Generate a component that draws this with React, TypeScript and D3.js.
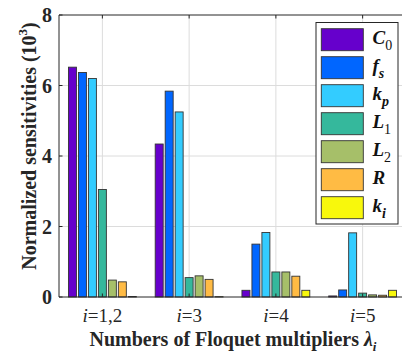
import React from 'react'
import * as d3 from 'd3'

// categories along x
const groups = ['1,2', '3', '4', '5']
// series: [main letter, subscript, subscript italic?]
const seriesNames = [
  ['C', '0', false],
  ['f', 's', true],
  ['k', 'p', true],
  ['L', '1', false],
  ['L', '2', false],
  ['R', '', false],
  ['k', 'i', true]
] as [string, string, boolean][]
const seriesColors = ['#6600cc', '#0066ff', '#33ccff', '#35b89c', '#a6bf69', '#ffbb44', '#f8f80c']

// values per series (10^3), one per group
const C0 = [6.52, 4.34, 0.19, 0.03]
const fs = [6.37, 5.84, 1.5, 0.2]
const kp = [6.2, 5.25, 1.83, 1.82]
const L1 = [3.05, 0.55, 0.71, 0.11]
const L2 = [0.48, 0.6, 0.71, 0.06]
const R = [0.43, 0.5, 0.59, 0.05]
const ki = [0.015, 0.01, 0.19, 0.19]
const series = [C0, fs, kp, L1, L2, R, ki]

const yTicks = [0, 2, 4, 6, 8]

const FONT = "'Liberation Serif', 'Times New Roman', serif"

export default function App() {
  const W = 402
  const H = 356
  const margin = { left: 59, top: 15, right: 406, bottom: 297 }

  const x = d3.scaleLinear().domain([0.5, groups.length + 0.5]).range([margin.left, margin.right])
  const y = d3.scaleLinear().domain([0, 8]).range([margin.bottom, margin.top])

  const step = 0.115
  const barW = x(0.092) - x(0)
  const n = series.length

  const axisColor = '#262626'
  const gridColor = '#dcdcdc'

  const legend = { x: 316, y: 22.5, w: 82, h: 201.5, step: 28, sw: 42, sh: 22 }

  return (
    <svg width={W} height={H} style={{ position: 'absolute', left: 0, top: 0, background: '#fff' }} fontFamily={FONT}>
      {/* grid */}
      {yTicks.slice(1, -1).map(t => (
        <line key={'gy' + t} x1={margin.left} x2={margin.right} y1={y(t)} y2={y(t)} stroke={gridColor} strokeWidth={1} />
      ))}
      {groups.map((g, i) => (
        <line key={'gx' + g} x1={x(i + 1)} x2={x(i + 1)} y1={margin.top} y2={margin.bottom} stroke={gridColor} strokeWidth={1} />
      ))}

      {/* bars */}
      {series.map((vals, s) =>
        vals.map((v, i) => {
          const cx = x(i + 1 + (s - (n - 1) / 2) * step)
          return (
            <rect
              key={s + '-' + i}
              x={cx - barW / 2}
              y={y(v)}
              width={barW}
              height={y(0) - y(v)}
              fill={seriesColors[s]}
              stroke="#333"
              strokeWidth={0.9}
            />
          )
        })
      )}

      {/* axes box */}
      <line x1={margin.left} x2={margin.right} y1={margin.top} y2={margin.top} stroke={axisColor} />
      <line x1={margin.left} x2={margin.right} y1={margin.bottom} y2={margin.bottom} stroke={axisColor} />
      <line x1={margin.left} x2={margin.left} y1={margin.top} y2={margin.bottom} stroke={axisColor} />
      {yTicks.map(t => (
        <line key={'ty' + t} x1={margin.left} x2={margin.left + 3.5} y1={y(t)} y2={y(t)} stroke={axisColor} />
      ))}
      {groups.map((g, i) => (
        <g key={'tx' + g}>
          <line x1={x(i + 1)} x2={x(i + 1)} y1={margin.bottom} y2={margin.bottom - 3.5} stroke={axisColor} />
          <line x1={x(i + 1)} x2={x(i + 1)} y1={margin.top} y2={margin.top + 3.5} stroke={axisColor} />
        </g>
      ))}

      {/* y tick labels */}
      {yTicks.map(t => (
        <text key={'yl' + t} x={52} y={y(t)} dy="0.35em" textAnchor="end" fontSize={20} fontWeight="bold" fill="#262626">
          {t}
        </text>
      ))}

      {/* x tick labels */}
      {groups.map((g, i) => (
        <text key={'xl' + g} x={x(i + 1)} y={322} textAnchor="middle" fontSize={19} fill="#262626">
          <tspan fontStyle="italic">i</tspan>
          <tspan>={g}</tspan>
        </text>
      ))}

      {/* axis labels */}
      <text x={233} y={346} textAnchor="middle" fontSize={20} fontWeight="bold" fill="#262626">
        Numbers of Floquet multipliers <tspan fontStyle="italic">λ</tspan>
        <tspan fontStyle="italic" fontSize={13} dy={5}>i</tspan>
      </text>
      <text transform="translate(36,146) rotate(-90)" textAnchor="middle" fontSize={20} fontWeight="bold" fill="#262626">
        Normalized sensitivities (10<tspan fontSize={13} dy={-9}>3</tspan>
        <tspan dy={9}>)</tspan>
      </text>

      {/* legend */}
      <rect x={legend.x} y={legend.y} width={legend.w} height={legend.h} fill="#fff" stroke={axisColor} strokeWidth={1} />
      {seriesNames.map(([main, sub, subItalic], s) => {
        const top = legend.y + 6.2 + s * legend.step
        return (
          <g key={'lg' + s}>
            <rect x={legend.x + 5.3} y={top} width={legend.sw} height={legend.sh} fill={seriesColors[s]} stroke="#333" strokeWidth={0.9} />
            <text x={legend.x + 56.5} y={top + 15} fontSize={19} fill="#111">
              <tspan fontWeight="bold" fontStyle="italic">{main}</tspan>
              {sub && (
                <tspan fontSize={14} dy={6} fontStyle={subItalic ? 'italic' : 'normal'} fontWeight={subItalic ? 'bold' : 'normal'}>
                  {sub}
                </tspan>
              )}
            </text>
          </g>
        )
      })}
    </svg>
  )
}
